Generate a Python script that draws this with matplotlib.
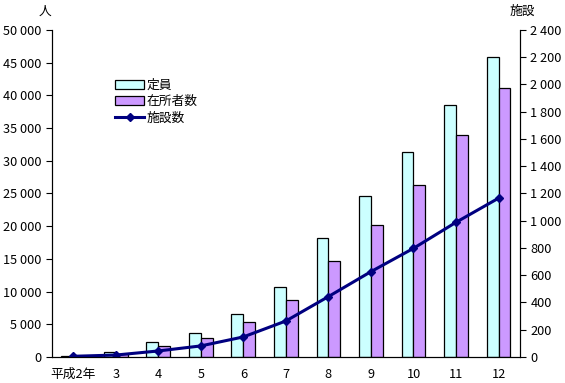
import numpy as np
import matplotlib.pyplot as plt
from matplotlib.ticker import FuncFormatter

plt.rcParams['font.family'] = ['Noto Sans CJK JP', 'DejaVu Sans']

# データ
nen = ["平成2年", "3", "4", "5", "6", "7", "8", "9", "10", "11", "12"]
teiin = [150, 760, 2290, 3620, 6570, 10700, 18150, 24620, 31350, 38530, 45870]
zaisho = [90, 460, 1680, 2850, 5350, 8720, 14680, 20180, 26300, 33940, 41130]
shisetsu = [5, 14, 44, 81, 147, 264, 443, 626, 797, 988, 1165]


def sen_kugiri(v, pos):
    # 千の位をスペースで区切る
    return "{:,}".format(int(v)).replace(",", " ")


fs = 9.2
fig = plt.figure(figsize=(5.65, 3.83), dpi=100)
ax = fig.add_axes([0.092, 0.068, 0.828, 0.854])
x = np.arange(len(nen))
w = 0.28

ax.bar(x - w / 2, teiin, w, color="#CCFFFF", edgecolor="black", linewidth=0.9, label="定員")
ax.bar(x + w / 2, zaisho, w, color="#CC99FF", edgecolor="black", linewidth=0.9, label="在所者数")
ax.set_xlim(-0.5, len(nen) - 0.5)
ax.set_ylim(0, 50000)
ax.set_yticks(np.arange(0, 50001, 5000))
ax.yaxis.set_major_formatter(FuncFormatter(sen_kugiri))
ax.set_xticks(x)
ax.set_xticklabels(nen)
ax.tick_params(axis="x", length=0, pad=8, labelsize=fs)
ax.tick_params(axis="y", length=4, labelsize=fs, direction="out")
ax.spines["top"].set_visible(False)

ax2 = ax.twinx()
ax2.plot(x, shisetsu, color="#000080", linewidth=2.2, marker="D", markersize=4, label="施設数")
ax2.set_ylim(0, 2400)
ax2.set_yticks(np.arange(0, 2401, 200))
ax2.yaxis.set_major_formatter(FuncFormatter(sen_kugiri))
ax2.tick_params(axis="y", length=4, labelsize=fs, direction="out")
ax2.spines["top"].set_visible(False)

h1, l1 = ax.get_legend_handles_labels()
h2, l2 = ax2.get_legend_handles_labels()
ax.legend(h1 + h2, l1 + l2, loc="upper left", bbox_to_anchor=(0.11, 0.885),
          frameon=False, fontsize=fs, handlelength=2.3, handleheight=0.7,
          labelspacing=0.25, handletextpad=0.2)

fig.text(45 / 565, 1 - 11 / 383, "人", ha="center", va="center", fontsize=fs)
fig.text(522 / 565, 1 - 11 / 383, "施設", ha="center", va="center", fontsize=fs)

fig.savefig("out.png", dpi=100)
